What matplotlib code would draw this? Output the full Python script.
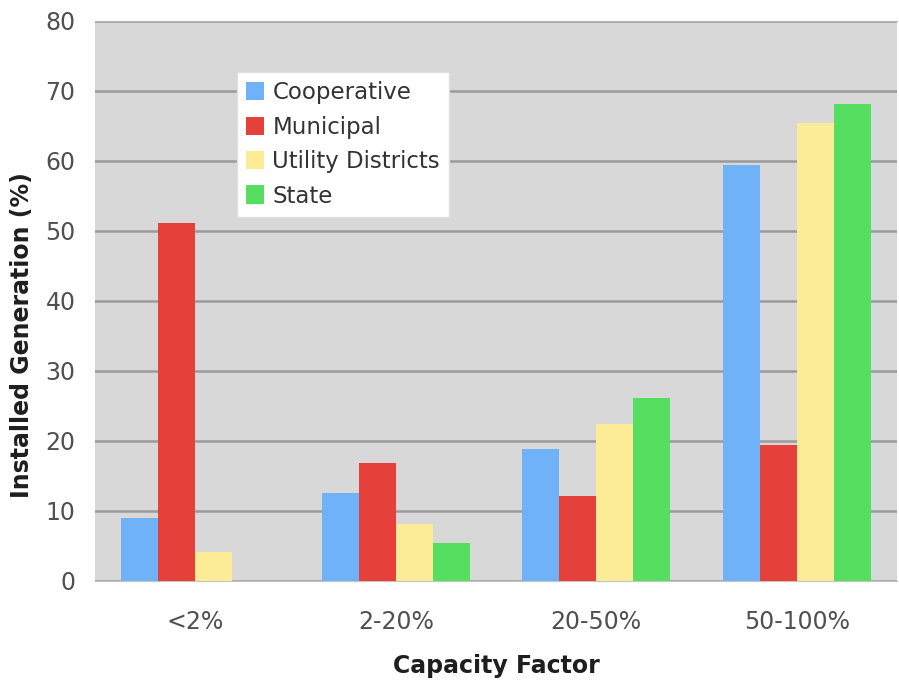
import matplotlib
matplotlib.use("Agg")
import matplotlib.pyplot as plt
import numpy as np

categories = ["<2%", "2-20%", "20-50%", "50-100%"]
series_names = ["Cooperative", "Municipal", "Utility Districts", "State"]
cooperative = [9.0, 12.6, 18.9, 59.4]
municipal = [51.1, 16.9, 12.2, 19.4]
utility_districts = [4.1, 8.2, 22.4, 65.4]
state = [0.0, 5.4, 26.2, 68.2]
colors = ["#6fb2f8", "#e6403b", "#fcec97", "#55de5f"]

fig = plt.figure(figsize=(8.99, 6.82), dpi=100)
ax = fig.add_axes([95 / 899, 1 - 581 / 682, 802 / 899, 560 / 682])
ax.set_facecolor("#d8d8d8")

x = np.arange(len(categories))
width = 0.185
values = [cooperative, municipal, utility_districts, state]
for i, (vals, name, col) in enumerate(zip(values, series_names, colors)):
    ax.bar(x + (i - 1.5) * width, vals, width, color=col, label=name, zorder=3)

ax.set_xlim(-0.5, 3.5)
ax.set_ylim(0, 80)
ax.set_yticks(range(0, 81, 10))
ax.yaxis.grid(True, color="#9a9a9a", linewidth=1.8, zorder=0)
ax.set_xticks(x)
ax.set_xticklabels(categories)
ax.tick_params(axis="both", length=0, labelsize=17, colors="#505050")
ax.tick_params(axis="y", pad=14)
ax.tick_params(axis="x", pad=21)
for s in ["right", "left"]:
    ax.spines[s].set_visible(False)
ax.spines["top"].set_color("#b8b8b8")
ax.spines["bottom"].set_color("#c4c4c4")

ax.set_ylabel("Installed Generation (%)", fontsize=17, fontweight="bold",
              color="#1e1e1e")
ax.yaxis.set_label_coords(-0.076, 0.44)
ax.set_xlabel("Capacity Factor", fontsize=17, fontweight="bold",
              color="#1e1e1e", labelpad=14)

leg = ax.legend(loc="upper left", bbox_to_anchor=(0.177, 0.909), fontsize=16.5,
                frameon=True, fancybox=False, framealpha=1, edgecolor="#e0e0e0",
                handlelength=0.8, handleheight=0.85, handletextpad=0.35,
                labelspacing=0.5, borderpad=0.4, borderaxespad=0)
for t in leg.get_texts():
    t.set_color("#333333")

fig.savefig("out.png", dpi=100)
